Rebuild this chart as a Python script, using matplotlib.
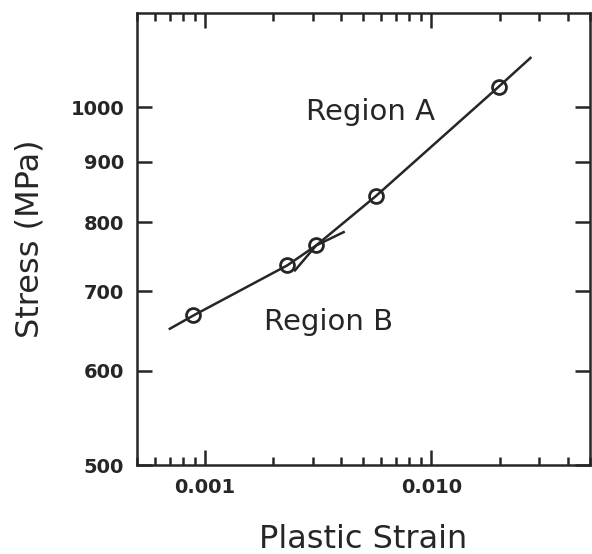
import numpy as np
import matplotlib.pyplot as plt
from matplotlib.ticker import FixedLocator, NullFormatter, FixedFormatter

# measured points (plastic strain, stress MPa)
strain_pts = [0.00089, 0.00231, 0.0031, 0.0057, 0.0198]
stress_pts = [668, 736, 765, 842, 1040]

# region B fit curve
strain_b = [0.0007, 0.00089, 0.00231, 0.0031, 0.0041]
stress_b = [651, 668, 736, 765, 785]

# region A fit line
strain_a = [0.0025, 0.0031, 0.0057, 0.0198, 0.0274]
stress_a = [729, 765, 842, 1040, 1100]

y_ticks = [500, 600, 700, 800, 900, 1000]
x_ticks = [0.001, 0.01]
x_labels = ['0.001', '0.010']

ink = '#262626'
plt.rcParams['font.family'] = 'DejaVu Sans'

fig = plt.figure(figsize=(5.92, 5.54), dpi=100)
ax = fig.add_axes([0.231, 0.1606, 0.765, 0.816])

ax.plot(strain_b, stress_b, color=ink, lw=1.8)
ax.plot(strain_a, stress_a, color=ink, lw=1.8)
ax.plot(strain_pts, stress_pts, 'o', mfc='none', mec=ink, ms=10, mew=2)

ax.set_xscale('log')
ax.set_yscale('log')
ax.set_xlim(0.0005, 0.05)
ax.set_ylim(500, 1200)

ax.xaxis.set_major_locator(FixedLocator(x_ticks))
ax.xaxis.set_major_formatter(FixedFormatter(x_labels))
minor_x = [m * 10.0 ** e for e in (-4, -3, -2) for m in range(2, 10)]
ax.xaxis.set_minor_locator(FixedLocator(minor_x))
ax.xaxis.set_minor_formatter(NullFormatter())

ax.yaxis.set_major_locator(FixedLocator(y_ticks))
ax.yaxis.set_major_formatter(FixedFormatter([str(v) for v in y_ticks]))
ax.yaxis.set_minor_locator(FixedLocator([]))
ax.yaxis.set_minor_formatter(NullFormatter())

ax.tick_params(which='both', direction='in', top=True, right=True, colors=ink, width=1.8)
ax.tick_params(which='major', length=11, labelsize=14, pad=9)
ax.tick_params(which='minor', length=6)
for lab in ax.get_xticklabels() + ax.get_yticklabels():
    lab.set_fontweight('bold')
for sp in ax.spines.values():
    sp.set_linewidth(1.8)
    sp.set_color(ink)

ax.set_xlabel('Plastic Strain', fontsize=23, color=ink, labelpad=20)
ax.set_ylabel('Stress (MPa)', fontsize=23, color=ink, labelpad=18)

ax.text(0.0054, 991, 'Region A', fontsize=21, color=ink, ha='center', va='center')
ax.text(0.0035, 659, 'Region B', fontsize=21, color=ink, ha='center', va='center')

fig.savefig('out.png', dpi=100)
